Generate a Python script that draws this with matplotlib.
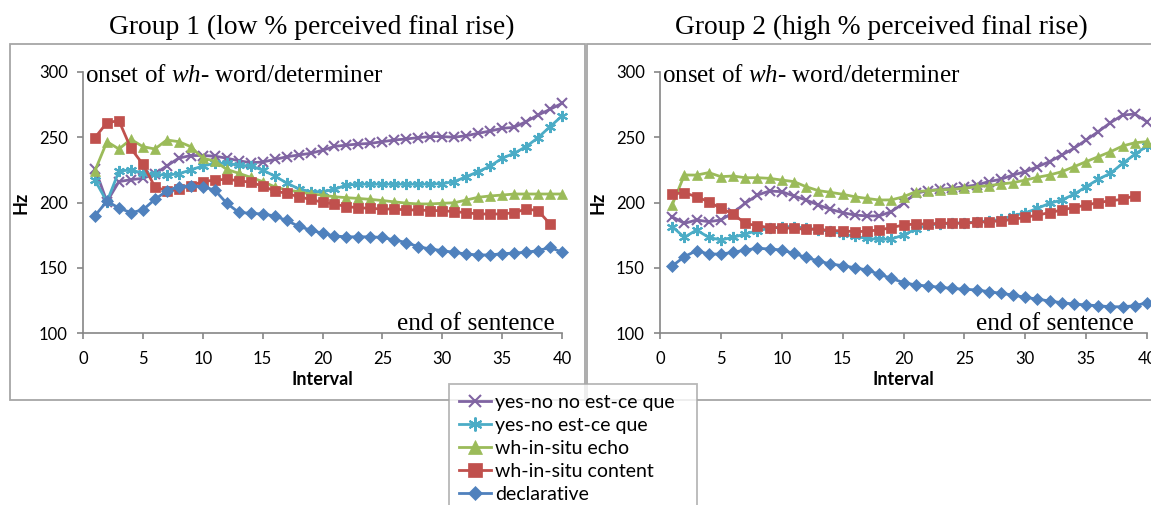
import numpy as np
import matplotlib
matplotlib.use("Agg")
import matplotlib.pyplot as plt
from matplotlib.patches import Rectangle

plt.rcParams["font.family"] = ["Lato", "DejaVu Sans"]
plt.rcParams["mathtext.fontset"] = "custom"
plt.rcParams["mathtext.rm"] = "Liberation Serif"
plt.rcParams["mathtext.it"] = "Liberation Serif:italic"

# ----------------------------- DATA ------------------------------------------
intervals = np.arange(1, 41)
series_names = ["yes-no no est-ce que", "yes-no est-ce que", "wh-in-situ echo",
                "wh-in-situ content", "declarative"]

# Group 1 (low % perceived final rise)
g1_yesno_no = [226, 200.6, 216, 217.5, 218.5, 222, 228, 234, 236, 236,
               235.5, 234, 232, 230.5, 231, 233, 235, 236.4, 237.7, 240,
               243, 244, 244.8, 245.3, 246.6, 247.9, 248.7, 249.7, 250.5, 250.5,
               250, 251.2, 253, 254.8, 256.8, 257.6, 262, 267, 271.4, 276]
g1_yesno = [217, 200.6, 224, 225, 222.4, 221.6, 221, 222, 225, 228,
            230, 230, 228.7, 227.9, 224.9, 220.3, 215, 210.5, 208.3, 208.3,
            210.1, 213.4, 214, 214, 214, 214, 214, 214, 214, 214.5,
            216, 219.8, 223.6, 227.9, 233.9, 237.7, 242.8, 249.7, 258.1, 266.3]
g1_echo = [224.4, 246.6, 241, 248.4, 242.8, 241, 247.9, 246.6, 242.8, 233.9,
           231.8, 225.4, 222.4, 219.3, 216, 212.1, 209.6, 208.3, 206.5, 205.7,
           204.4, 203.7, 203.1, 202.4, 201.5, 200.5, 199.5, 198.9, 198.9, 199.4,
           199.8, 201.9, 204, 205, 205.7, 206.5, 206.5, 206.5, 206.5, 206.5]
g1_content = [249.7, 261.2, 262.7, 241.5, 229.3, 212.1, 208.8, 210.3, 212.9, 216,
              217.2, 217.8, 216.7, 215.5, 212.6, 208.8, 207, 204.4, 202.4, 200.2,
              198.9, 196.8, 196, 195.5, 195, 195, 194.3, 194.3, 193.8, 193.8,
              193, 192.2, 191.2, 191.2, 191.2, 192.2, 195, 193.8, 183.5]
g1_decl = [189.9, 201, 195.8, 192.2, 194.3, 202.4, 208.8, 212.1, 212.9, 212,
           209.6, 199.4, 192.5, 191.7, 191.2, 189.7, 186.3, 181.8, 178.9, 176.4,
           174.3, 173.7, 173.7, 173.7, 173.2, 171.3, 169.3, 166.1, 164.4, 163.1,
           161.8, 160.5, 159.8, 159.8, 160.8, 161.2, 161.9, 163.1, 165.6, 161.9]

# Group 2 (high % perceived final rise)
g2_yesno_no = [189.1, 184, 186.6, 185.3, 186.6, 192.2, 199.4, 205.7, 208.8, 208.3,
               205, 201.9, 198.1, 194.8, 192.2, 190.4, 189.7, 189.7, 193, 199.4,
               207, 209.1, 210.1, 210.9, 212.1, 213.4, 216, 217.8, 221.1, 223.6,
               227.4, 231.3, 236.4, 241.5, 247.9, 254.3, 261.2, 267, 267.8, 261.9]
g2_yesno = [181.5, 173.3, 178.9, 173.3, 171.3, 173.3, 175.9, 178.4, 180.2, 181.5,
            181.5, 180.5, 179, 178, 176, 174, 172.5, 171.7, 172, 175.1,
            179.5, 182.8, 183.5, 184, 184.5, 185, 186, 187, 190, 192,
            195.5, 199.4, 201.9, 206.3, 212.1, 217.8, 222.4, 230, 236.9, 243.3]
g2_echo = [198.1, 221.1, 221, 222.9, 219.8, 220.3, 219, 219, 218.5, 217.2,
           216, 212.1, 209.1, 207.8, 206.3, 204.4, 203.1, 201.9, 202, 204.4,
           208.3, 209, 209.6, 210, 210.9, 212.1, 212.9, 214.2, 215.2, 217.2,
           219.3, 221.1, 223.6, 227.4, 231.3, 235.1, 238.9, 243.3, 245.8, 246.6]
g2_content = [206.5, 207.5, 204.4, 200.6, 195.5, 191.2, 184, 182.2, 180.7, 180.7,
              180.2, 179.5, 179.5, 178.4, 178.4, 177.6, 178, 179, 180.7, 182.8,
              183.5, 183.5, 184.1, 184.1, 184.1, 184.8, 185.3, 186, 187.1, 188.6,
              190.4, 192.2, 194.3, 196.1, 198.1, 199.9, 201.4, 202.4, 205.2]
g2_decl = [151.3, 158.5, 163.1, 160.5, 160.5, 161.8, 163.6, 164.9, 164.4, 163.6,
           161, 157.9, 155.2, 152.9, 151.6, 150, 148.3, 145, 141.9, 138.6,
           136.8, 136, 135, 134.2, 133.5, 133, 131.7, 130.4, 129.1, 127.3,
           126, 124.5, 123.2, 122.2, 121.5, 120.9, 120.1, 120.1, 120.9, 123.2]

x_ticks = [0, 5, 10, 15, 20, 25, 30, 35, 40]
y_ticks = [100, 150, 200, 250, 300]

# ----------------------------- STYLE -----------------------------------------
COLORS = ["#8064A2", "#4BACC6", "#9BBB59", "#C0504D", "#4F81BD"]
MARKERS = ["x", (6, 2, 0), "^", "s", "D"]
MSIZES = [7, 8, 7.5, 7.5, 6]
AXIS_GREY = "#868686"
BOX_GREY = "#A6A6A6"

W, H = 1151, 505
fig = plt.figure(figsize=(W / 100, H / 100), dpi=100)


def px(x0, y0, x1, y1):
    """pixel box (top-left origin) -> figure fraction rect"""
    return [x0 / W, 1 - y1 / H, (x1 - x0) / W, (y1 - y0) / H]


# panel frames
for x0, x1 in ((10, 585), (587, 1160)):
    fig.add_artist(Rectangle((x0 / W, 1 - 400 / H), (x1 - x0) / W, (400 - 44) / H,
                             transform=fig.transFigure, fill=False,
                             edgecolor=BOX_GREY, lw=1.3))


def panel(rect, groups, end_x, title, title_x):
    ax = fig.add_axes(rect)
    handles = []
    for vals, c, m, ms, name in zip(groups, COLORS, MARKERS, MSIZES, series_names):
        h, = ax.plot(intervals[:len(vals)], vals, color=c, lw=2, marker=m,
                     ms=ms, mew=1.5 if m in ("x", (6, 2, 0)) else 0.5,
                     mec=c, label=name, clip_on=False)
        handles.append(h)
    ax.set_xlim(0, 40)
    ax.set_ylim(100, 300)
    ax.set_xticks(x_ticks)
    ax.set_yticks(y_ticks)
    for s in ("top", "right"):
        ax.spines[s].set_visible(False)
    for s in ("left", "bottom"):
        ax.spines[s].set_color(AXIS_GREY)
        ax.spines[s].set_linewidth(1.2)
    ax.tick_params(axis="y", direction="out", length=4, width=1.2, color=AXIS_GREY,
                   pad=7, labelsize=12)
    ax.tick_params(axis="x", direction="out", length=4, width=1.2, color=AXIS_GREY,
                   pad=9, labelsize=12)
    ax.set_xlabel("Interval", fontsize=13, fontweight="bold", labelpad=3)
    ax.set_ylabel("Hz", fontsize=13, fontweight="bold", labelpad=7)
    ax.text(0.004, 0.962, r"onset of $\it{wh}$- word/determiner", transform=ax.transAxes,
            family="Liberation Serif", fontsize=18, va="baseline", ha="left")
    ax.text(end_x, 0.012, "end of sentence", transform=ax.transAxes,
            family="Liberation Serif", fontsize=18.3, va="baseline", ha="right")
    fig.text(title_x / W, 1 - 34 / H, title, family="Liberation Serif",
             fontsize=19.8, ha="center", va="baseline")
    return ax, handles


ax1, handles = panel(px(83, 72, 562, 333),
                     [g1_yesno_no, g1_yesno, g1_echo, g1_content, g1_decl],
                     0.985, "Group 1 (low % perceived final rise)", 312)
ax2, _ = panel(px(660, 72, 1147, 333),
               [g2_yesno_no, g2_yesno, g2_echo, g2_content, g2_decl],
               0.973, "Group 2 (high % perceived final rise)", 881)

leg_h = 0.3
leg = fig.legend(handles=handles, loc="upper left", mode="expand",
                 bbox_to_anchor=(449 / W, 1 - 384 / H - leg_h, 248 / W, leg_h),
                 fontsize=14, markerscale=1.25,
                 frameon=True, fancybox=False, edgecolor=BOX_GREY,
                 borderpad=0.5, handlelength=1.65, handletextpad=0.2,
                 labelspacing=0.31, borderaxespad=0)
leg.get_frame().set_linewidth(1.3)

fig.savefig("out.png", dpi=100, facecolor="white")
